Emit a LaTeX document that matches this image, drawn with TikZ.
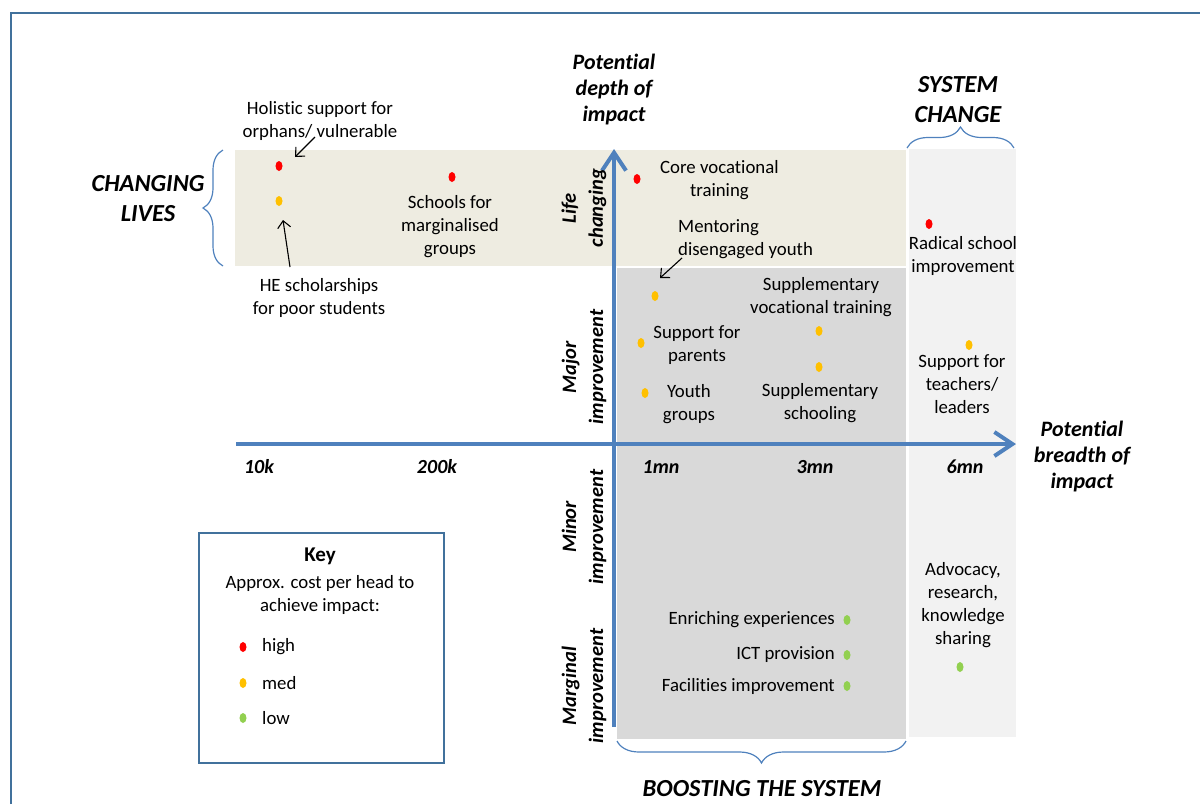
\documentclass[tikz,border=0pt]{standalone}
\usepackage{fontspec}
\setmainfont{Carlito}[Ligatures={NoCommon}]
\usetikzlibrary{arrows.meta,decorations.pathreplacing,shapes.geometric,positioning}

\definecolor{axisblue}{HTML}{4F81BD}
\definecolor{frameblue}{HTML}{41719C}
\definecolor{beige}{HTML}{EEECE1}
\definecolor{boostgray}{HTML}{D9D9D9}
\definecolor{sysgray}{HTML}{F2F2F2}
\definecolor{costhigh}{HTML}{FF0000}
\definecolor{costmed}{HTML}{FFC000}
\definecolor{costlow}{HTML}{92D050}

\tikzset{
  costdot/.style={ellipse, fill=#1, minimum width=7pt, minimum height=10pt, inner sep=0pt},
  lbl/.style={font=\fontsize{18.8}{23}\selectfont, align=center, inner sep=0pt},
  heading/.style={font=\fontsize{24.5}{30}\selectfont\bfseries\itshape, align=center, inner sep=0pt},
  axislabel/.style={font=\fontsize{22}{26}\selectfont\bfseries\itshape, align=center, inner sep=0pt},
  ticklabel/.style={font=\fontsize{20}{24}\selectfont\bfseries\itshape, inner sep=0pt},
  bandlabel/.style={font=\fontsize{20.5}{27}\selectfont\bfseries\itshape, align=center, inner sep=0pt, rotate=90},
  impactaxis/.style={axisblue, line width=4pt, -{Straight Barb[length=18pt,width=24pt]}},
  annot/.style={black, line width=1.1pt, -{Straight Barb[length=7pt,width=13pt]}},
  bracebar/.style={axisblue, line width=1.2pt, decorate, decoration={brace, amplitude=#1}},
}

\begin{document}
\begin{tikzpicture}[x=1pt,y=-1pt]
  \useasboundingbox (0,0) rectangle (1200,804);
  % frame runs off the page
  \draw[frameblue, line width=2pt] (11,804) -- (11,13) -- (1200,13);

  % shaded zones
  \fill[beige] (235,150) rectangle (906,266);
  \fill[boostgray] (617,268) rectangle (906,739);
  \fill[sysgray] (909,149) rectangle (1016,737);

  % axes
  \draw[impactaxis] (236,444) -- (1016,444);
  \draw[impactaxis] (614,727) -- (614,149);

  \node[axislabel] (depth) at (614,90) {Potential\\depth of\\impact};
  \node[axislabel] (breadth) at (1082,457) {Potential\\breadth of\\impact};

  \foreach \name/\x/\txt in {t10k/259/10k, t200k/437/200k, t1mn/661/1mn, t3mn/815/3mn, t6mn/965/6mn}
    \node[ticklabel] (\name) at (\x,467) {\txt};

  \foreach \name/\y/\txt in {life/208/{Life\\changing}, major/367/{Major\\improvement},
                             minor/527/{Minor\\improvement}, marginal/686/{Marginal\\improvement}}
    \node[bandlabel] (\name) at (584,\y) {\txt};

  % braces and zone titles
  \draw[bracebar=20pt] (223,266) -- (223,150);
  \draw[bracebar=21pt] (907,148) -- (1014,148);
  \draw[bracebar=22pt] (906,741) -- (617,741);
  \node[heading] (changing) at (148,199) {CHANGING\\LIVES};
  \node[heading] (syschange) at (958,100) {SYSTEM\\CHANGE};
  \node[heading] (boosting) at (762,789) {BOOSTING THE SYSTEM};

  % changing lives
  \node[costdot=costhigh] (holdot) at (279,166) {};
  \node[costdot=costmed] (hedot) at (279,201) {};
  \node[costdot=costhigh] (schdot) at (452,177) {};
  \node[lbl] (holistic) at (320,121) {Holistic support for\\orphans/ vulnerable};
  \node[lbl] (scholar) at (319,298) {HE scholarships\\for poor students};
  \node[lbl] (schools) at (450,227) {Schools for\\marginalised\\groups};
  \coordinate (holtail) at (315,137);
  \coordinate (holtip) at (295,157);
  \coordinate (hetail) at (290,267);
  \coordinate (hetip) at (283,220);
  \draw[annot] (holtail) -- (holtip);
  \draw[annot] (hetail) -- (hetip);

  % boosting the system
  \node[costdot=costhigh] (coredot) at (637,179) {};
  \node[lbl, anchor=west] (core) at (660,180) {Core vocational\\training};
  \node[costdot=costmed] (mentdot) at (655,296) {};
  \node[lbl, anchor=west, align=left] (mentor) at (678,239) {Mentoring\\disengaged youth};
  \coordinate (menttail) at (682,258);
  \coordinate (menttip) at (660,278);
  \draw[annot] (menttail) -- (menttip);
  \node[costdot=costmed] (pardot) at (641,343) {};
  \node[lbl] (parents) at (697,345) {Support for\\parents};
  \node[costdot=costmed] (youdot) at (645,393) {};
  \node[lbl] (youth) at (689,404) {Youth\\groups};
  \node[costdot=costmed] (svocdot) at (819,331) {};
  \node[lbl] (suppvoc) at (821,297) {Supplementary\\vocational training};
  \node[costdot=costmed] (sschdot) at (819,367) {};
  \node[lbl] (suppsch) at (820,403) {Supplementary\\schooling};
  \foreach \name/\y/\txt in {enrich/620/Enriching experiences, ict/655/ICT provision, facil/686/Facilities improvement} {
    \node[costdot=costlow] (\name dot) at (847,\y) {};
    \node[lbl, anchor=east] (\name) at (835,\y) {\txt};
  }

  % system change
  \node[costdot=costhigh] (raddot) at (929,224) {};
  \node[lbl] (radical) at (963,256) {Radical school\\improvement};
  \node[costdot=costmed] (teadot) at (969,345) {};
  \node[lbl] (teachers) at (962,384) {Support for\\teachers/\\leaders};
  \node[lbl] (advocacy) at (963,605) {Advocacy,\\research,\\knowledge\\sharing};
  \node[costdot=costlow] (advdot) at (960,667) {};

  % key
  \node[draw=frameblue, line width=2pt, minimum width=245pt, minimum height=230pt] (keybox) at (321.5,648) {};
  \node[lbl, font=\fontsize{21}{25}\selectfont\bfseries] (keytitle) at (320,556) {Key};
  \node[lbl] (keytext) at (320,595) {Approx. cost per head to\\achieve impact:};
  \foreach \name/\y/\col in {high/647/costhigh, med/683/costmed, low/718/costlow} {
    \node[costdot=\col] (\name dot) at (243,\y) {};
    \node[lbl, anchor=west] (\name) at (262,\y) {\name};
  }
\end{tikzpicture}
\end{document}
